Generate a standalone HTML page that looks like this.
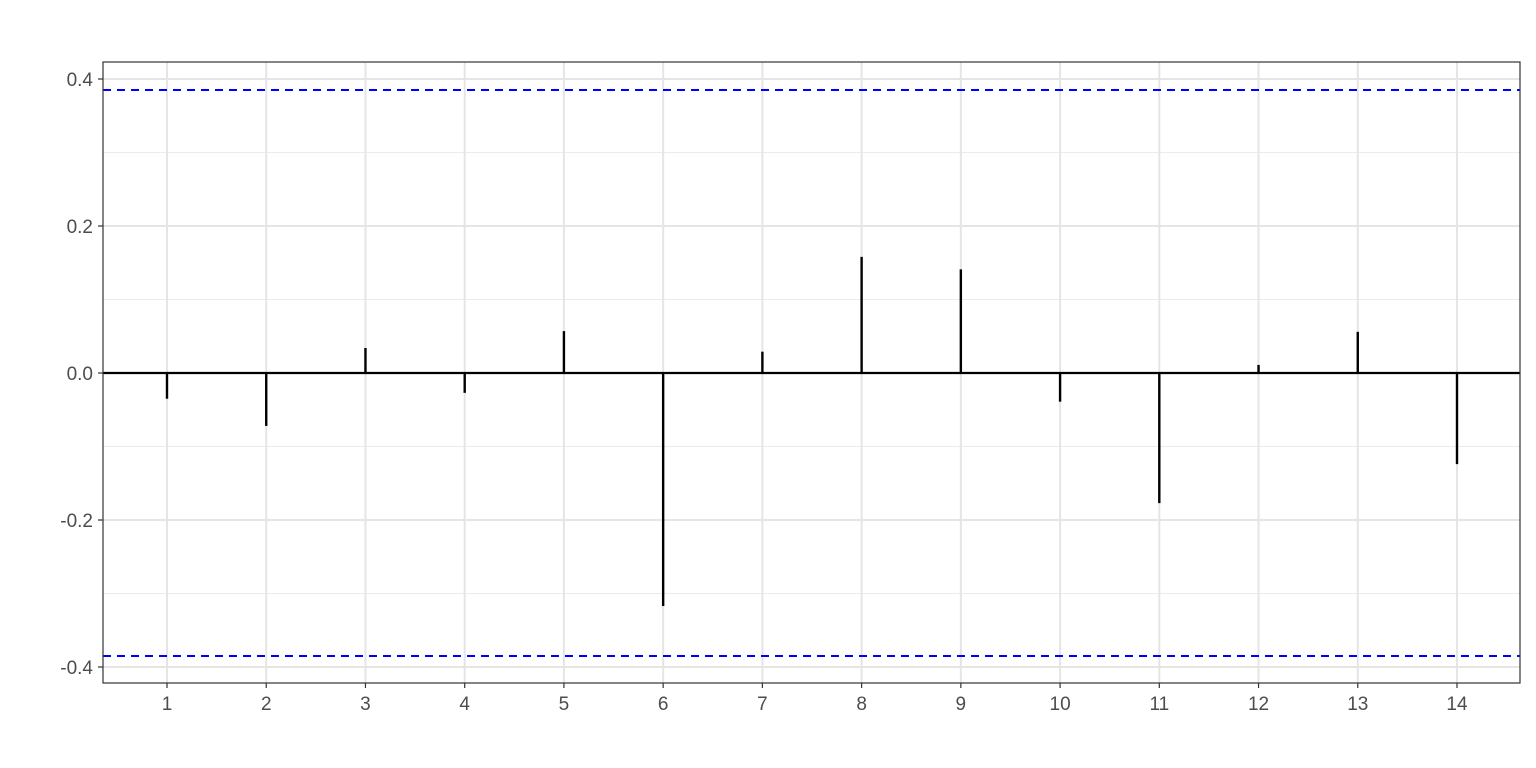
<!DOCTYPE html>
<html><head><meta charset="utf-8"><style>
body{margin:0;background:#fff;}
svg{display:block;font-family:"Liberation Sans",Arial,sans-serif;}
</style></head><body>
<svg id="chart" width="1536" height="768"></svg>
<script>
const lags=[1,2,3,4,5,6,7,8,9,10,11,12,13,14];
const acf=[-0.035,-0.072,0.034,-0.027,0.057,-0.317,0.029,0.158,0.141,-0.039,-0.177,0.011,0.056,-0.124];
const yTicks=[-0.4,-0.2,0.0,0.2,0.4];
const yTickLabels=["-0.4","-0.2","0.0","0.2","0.4"];
const ciBound=0.385;
const NS="http://www.w3.org/2000/svg";
const svg=document.getElementById('chart');
const L=103,R=1520,T=62,B=683;
const x=v=>167+(v-1)*(1457-167)/13;
const y=v=>373-v*735;
function el(tag,attrs,parent){const e=document.createElementNS(NS,tag);for(const k in attrs)e.setAttribute(k,attrs[k]);(parent||svg).appendChild(e);return e;}
for(let i=0;i<yTicks.length-1;i++){const m=(yTicks[i]+yTicks[i+1])/2;
const g=el('line',{x1:L,x2:R,y1:y(m),y2:y(m),stroke:'#ebebeb','stroke-width':1});

}
yTicks.forEach((t,i)=>{
const g=el('line',{x1:L,x2:R,y1:y(t),y2:y(t),stroke:'#e5e5e5','stroke-width':2});


const tk=el('line',{x1:L-5,x2:L,y1:y(t),y2:y(t),stroke:'#333','stroke-width':1.2});


const tx=el('text',{x:L-10,y:y(t)+7,'text-anchor':'end','font-size':19,fill:'#4d4d4d'});
tx.textContent=yTickLabels[i];


});
lags.forEach(l=>{
const g=el('line',{x1:x(l),x2:x(l),y1:T,y2:B,stroke:'#e5e5e5','stroke-width':2});


const tk=el('line',{x1:x(l),x2:x(l),y1:B,y2:B+5,stroke:'#333','stroke-width':1.2});


const tx=el('text',{x:x(l),y:B+27,'text-anchor':'middle','font-size':19,fill:'#4d4d4d'});
tx.textContent=l;


});
[ciBound,-ciBound].forEach(c=>{
const d=el('line',{x1:L,x2:R,y1:y(c),y2:y(c),stroke:'#0000ff','stroke-width':2,'stroke-dasharray':'8,6'});


});
const z=el('line',{x1:L,x2:R,y1:y(0),y2:y(0),stroke:'#000','stroke-width':2.2});


lags.forEach((l,i)=>{
const b=el('line',{x1:x(l),x2:x(l),y1:y(0),y2:y(acf[i]),stroke:'#000','stroke-width':2.4});


});
const p=el('rect',{x:L,y:T,width:R-L,height:B-T,fill:'none',stroke:'#333','stroke-width':1.2});


</script>
</body></html>
